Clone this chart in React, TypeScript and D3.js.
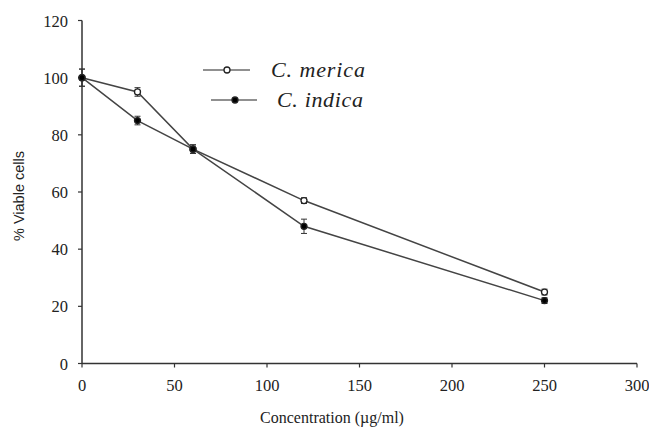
import React from "react";
import * as d3 from "d3";

const concentrations = [0, 30, 60, 120, 250];
const mericaValues = [100, 95, 75, 57, 25];
const mericaErrors = [3, 1.5, 1.5, 1, 1];
const indicaValues = [100, 85, 75, 48, 22];
const indicaErrors = [3, 1.5, 1.5, 2.5, 1];
const xTicks = [0, 50, 100, 150, 200, 250, 300];
const yTicks = [0, 20, 40, 60, 80, 100, 120];

export default function App() {
  const W = 649, H = 428;
  const x = d3.scaleLinear().domain([0, 300]).range([82, 637]);
  const y = d3.scaleLinear().domain([0, 120]).range([363.5, 20.5]);
  const line = d3.line<number>().x((_, i) => x(concentrations[i])).y((d) => y(d));
  const serif = "Liberation Serif";
  const sans = "Liberation Sans";
  const col = "#333";

  const series = [
    { name: "C. merica", vals: mericaValues, errs: mericaErrors, filled: false },
    { name: "C. indica", vals: indicaValues, errs: indicaErrors, filled: true },
  ];

  return (
    <svg width={W} height={H} style={{ position: "absolute", left: 0, top: 0, background: "#fff" }}>
      <line x1={x(0)} x2={x(300)} y1={y(0)} y2={y(0)} stroke={col} strokeWidth={1.5} />
      <line x1={x(0)} x2={x(0)} y1={y(0)} y2={y(120)} stroke={col} strokeWidth={1.5} />
      {xTicks.map((t) => (
        <g key={"x" + t}>
          <line x1={x(t)} x2={x(t)} y1={y(0)} y2={y(0) + 4} stroke={col} strokeWidth={1.2} />
          <text x={x(t)} y={391} textAnchor="middle" style={{ fontFamily: serif }} fontSize={16.5} fill="#222">{t}</text>
        </g>
      ))}
      {yTicks.map((t) => (
        <g key={"y" + t}>
          <line x1={x(0) - 4} x2={x(0)} y1={y(t)} y2={y(t)} stroke={col} strokeWidth={1.2} />
          <text x={68} y={y(t) + 6} textAnchor="end" style={{ fontFamily: serif }} fontSize={16.5} fill="#222">{t}</text>
        </g>
      ))}
      <text x={332} y={423} textAnchor="middle" style={{ fontFamily: serif }} fontSize={16} fill="#222">Concentration  (µg/ml)</text>
      <text transform={`translate(24,196) rotate(-90)`} textAnchor="middle" style={{ fontFamily: sans }} fontSize={14.5} fill="#222">% Viable cells</text>

      {series.map((s) => (
        <g key={s.name}>
          <path d={line(s.vals) || ""} fill="none" stroke="#444" strokeWidth={1.5} />
          {s.vals.map((v, i) => {
            const cx = x(concentrations[i]);
            const e = s.errs[i];
            return (
              <g key={i}>
                <line x1={cx} x2={cx} y1={y(v + e)} y2={y(v - e)} stroke="#333" strokeWidth={1} />
                <line x1={cx - 3} x2={cx + 3} y1={y(v + e)} y2={y(v + e)} stroke="#333" strokeWidth={1} />
                <line x1={cx - 3} x2={cx + 3} y1={y(v - e)} y2={y(v - e)} stroke="#333" strokeWidth={1} />
                <circle cx={cx} cy={y(v)} r={3} fill={s.filled ? "#000" : "#fff"} stroke="#222" strokeWidth={1.3} />
              </g>
            );
          })}
        </g>
      ))}

      <line x1={203} x2={250} y1={70} y2={70} stroke="#222" strokeWidth={1.2} />
      <circle cx={227} cy={70} r={3} fill="#fff" stroke="#222" strokeWidth={1.3} />
      <text x={271} y={77} style={{ fontFamily: serif, fontStyle: "italic" }} fontSize={22} fill="#222" textLength={94} lengthAdjust="spacing">C. merica</text>
      <line x1={211} x2={257} y1={100} y2={100} stroke="#222" strokeWidth={1.2} />
      <circle cx={235} cy={100} r={3} fill="#000" stroke="#222" strokeWidth={1.3} />
      <text x={277} y={107} style={{ fontFamily: serif, fontStyle: "italic" }} fontSize={22} fill="#222" textLength={86} lengthAdjust="spacing">C. indica</text>
    </svg>
  );
}
